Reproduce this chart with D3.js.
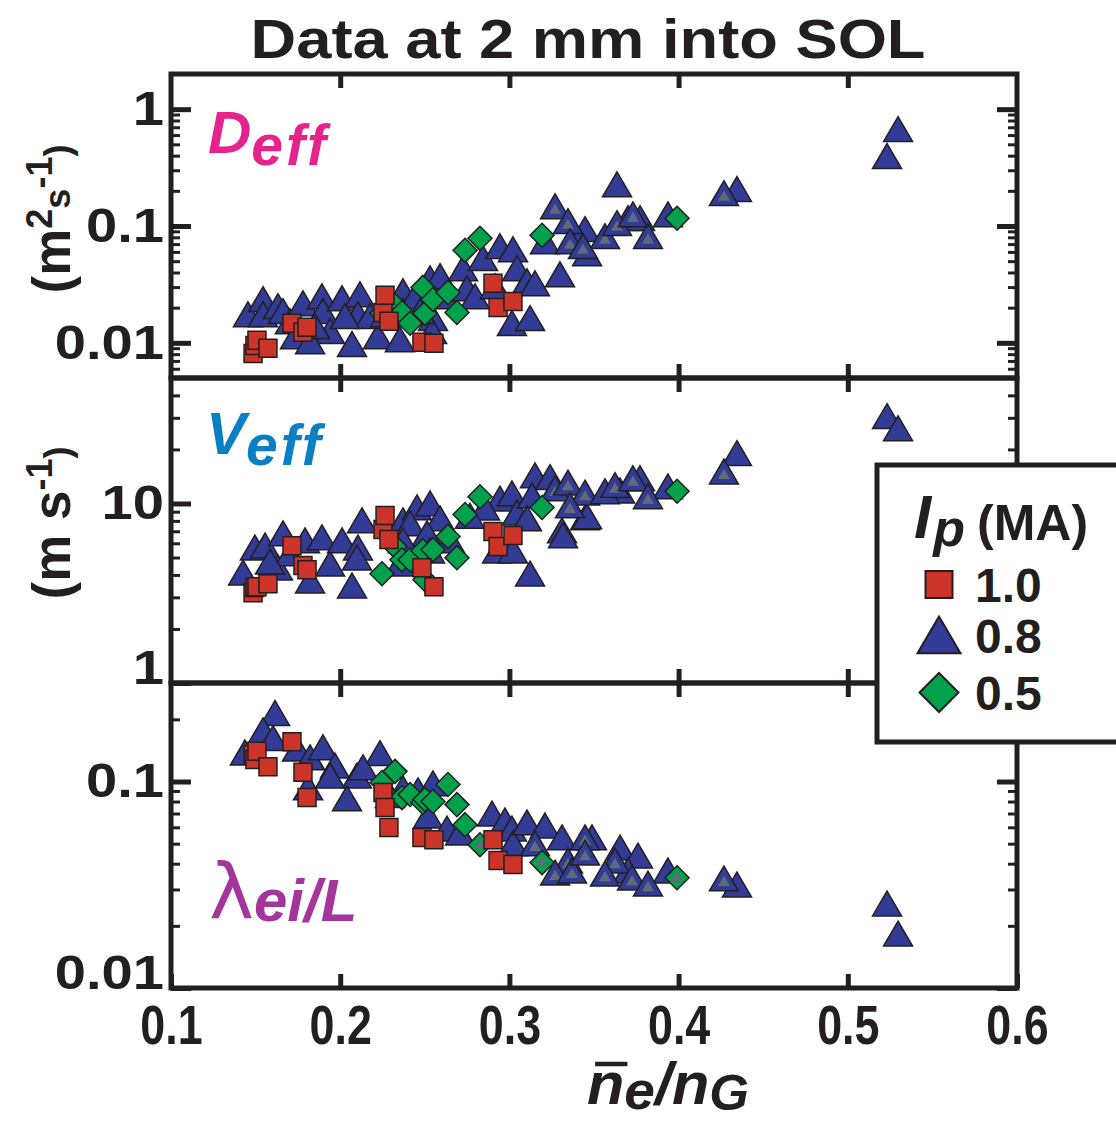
<!DOCTYPE html>
<html>
<head>
<meta charset="utf-8">
<script src="https://cdn.jsdelivr.net/npm/d3@7"></script>
<style>
  body { margin: 0; background: #fff; }
  svg { display: block; }
</style>
</head>
<body>
<svg id="chart" width="1116" height="1123"></svg>
<script>
// ---- Ip = 1.0 MA (squares): same discharges in all three panels ----
const ip10X  = [0.1485, 0.1496, 0.1508, 0.1573, 0.1715, 0.1780, 0.1804, 0.2253, 0.2265, 0.2288, 0.2483, 0.2554, 0.2903, 0.2933, 0.3021];
const deff10 = [0.0081, 0.0095, 0.0105, 0.0090, 0.0147, 0.0123, 0.0136, 0.0182, 0.0255, 0.0153, 0.0101, 0.0099, 0.0323, 0.0201, 0.0226];
const veff10 = [3.18, 3.40, 3.44, 3.57, 5.82, 4.51, 4.28, 7.16, 8.57, 6.30, 4.39, 3.44, 6.98, 5.75, 6.63];
const lam10  = [0.135, 0.128, 0.140, 0.118, 0.156, 0.111, 0.0836, 0.0885, 0.0748, 0.0598, 0.0535, 0.0523, 0.0523, 0.0414, 0.0396];

// ---- Ip = 0.5 MA (diamonds) ----
const ip05X  = [0.2247, 0.2324, 0.2365, 0.2413, 0.2489, 0.2501, 0.2548, 0.2637, 0.2690, 0.2738, 0.2826, 0.3193, 0.3991];
const deff05 = [0.0179, 0.0209, 0.0182, 0.0147, 0.0298, 0.0179, 0.0235, 0.0270, 0.0182, 0.0619, 0.0785, 0.0832, 0.1164];
const veff05 = [4.06, 5.75, 4.86, 4.86, 5.46, 3.76, 5.53, 6.54, 4.99, 8.68, 10.9, 9.50, 11.7];
const lam05  = [0.0989, 0.112, 0.0836, 0.0865, 0.0791, 0.0818, 0.0800, 0.0967, 0.0773, 0.0618, 0.0494, 0.0405, 0.0342];
const lam05Cored = [0, 0, 0, 0, 0, 0, 0, 0, 0, 0, 1, 1, 1];

// ---- Ip = 0.8 MA (triangles), D_eff ----
const deffTriX = [0.1455, 0.1544, 0.1544, 0.1632, 0.1662, 0.1703, 0.1733, 0.1780, 0.1892, 0.1898, 0.2011, 0.2117, 0.2105, 0.1940, 0.1822, 0.2070, 0.2223, 0.2353, 0.2176, 0.2294, 0.2371, 0.2371, 0.2442, 0.2531, 0.2590, 0.2548, 0.2543, 0.2619, 0.2726, 0.2749, 0.2797, 0.2844, 0.2915, 0.2944, 0.3021, 0.3045, 0.3104, 0.3151, 0.3299, 0.3015, 0.3122, 0.3447, 0.3459, 0.3636, 0.3701, 0.3772, 0.3937, 0.4345, 0.5232, 0.5297, 0.3210, 0.1851, 0.2028, 0.2265, 0.2472];
const deffTriY = [0.0162, 0.0218, 0.0162, 0.0190, 0.0172, 0.0141, 0.0105, 0.0201, 0.0231, 0.0172, 0.0222, 0.0240, 0.0162, 0.0116, 0.0095, 0.0090, 0.0105, 0.0099, 0.0156, 0.0209, 0.0255, 0.0172, 0.0231, 0.0329, 0.0343, 0.0150, 0.0116, 0.0231, 0.0401, 0.0270, 0.0231, 0.0489, 0.0281, 0.0619, 0.0583, 0.0401, 0.0310, 0.0298, 0.0356, 0.0136, 0.0150, 0.0866, 0.0539, 0.210, 0.1076, 0.1076, 0.116, 0.191, 0.366, 0.622, 0.0683, 0.0128, 0.0156, 0.0162, 0.0172];
const deffCoreX = [0.3270, 0.3346, 0.3358, 0.3565, 0.3636, 0.3819, 0.4268, 0.3730, 0.3435];
const deffCoreY = [0.136, 0.1014, 0.0683, 0.0754, 0.0975, 0.0754, 0.176, 0.116, 0.0619];

// ---- Ip = 0.8 MA (triangles), V_eff ----
const veffTriX = [0.1426, 0.1496, 0.1556, 0.1662, 0.1632, 0.1792, 0.1892, 0.1940, 0.1822, 0.2011, 0.2105, 0.2129, 0.2099, 0.2070, 0.2371, 0.2454, 0.2531, 0.2413, 0.2590, 0.2513, 0.2371, 0.2353, 0.2531, 0.2649, 0.2944, 0.3015, 0.3045, 0.3151, 0.3240, 0.3447, 0.3311, 0.3134, 0.3104, 0.2927, 0.3021, 0.3122, 0.3317, 0.3459, 0.3654, 0.3772, 0.3937, 0.4345, 0.5232, 0.5297, 0.2856, 0.2767, 0.1703, 0.1585];
const veffTriY = [3.91, 5.39, 5.53, 6.46, 4.17, 5.91, 6.14, 4.39, 3.53, 5.91, 5.39, 7.64, 4.74, 3.31, 7.64, 9.02, 9.50, 7.35, 7.83, 6.46, 5.91, 4.39, 5.19, 5.91, 10.1, 10.8, 8.45, 13.6, 13.3, 7.93, 6.71, 10.5, 7.83, 5.19, 5.19, 3.86, 6.30, 8.03, 11.2, 13.1, 11.8, 18.1, 29.1, 24.9, 9.0, 8.1, 5.0, 4.5];
const veffCoreX = [0.3270, 0.3346, 0.3447, 0.3358, 0.3565, 0.3624, 0.3730, 0.3819, 0.4268];
const veffCoreY = [11.5, 12.4, 10.9, 9.26, 11.1, 12.0, 13.1, 10.4, 14.3];

// ---- Ip = 0.8 MA (triangles), lambda_ei / L ----
const lamTriX = [0.1615, 0.1544, 0.1603, 0.1437, 0.1745, 0.1822, 0.1898, 0.1969, 0.2099, 0.1940, 0.2040, 0.2235, 0.2135, 0.1810, 0.2371, 0.2460, 0.2548, 0.2519, 0.2631, 0.2708, 0.2897, 0.2974, 0.3015, 0.3021, 0.3104, 0.3210, 0.3311, 0.3488, 0.3654, 0.3760, 0.3937, 0.4345, 0.5232, 0.5297, 0.3701, 0.2294];
const lamTriY = [0.205, 0.169, 0.155, 0.132, 0.138, 0.125, 0.140, 0.114, 0.102, 0.102, 0.0791, 0.131, 0.112, 0.0894, 0.0885, 0.0865, 0.0935, 0.0654, 0.0565, 0.0541, 0.0668, 0.0618, 0.0565, 0.0479, 0.0605, 0.0585, 0.0512, 0.0512, 0.0457, 0.0418, 0.0354, 0.0303, 0.0245, 0.0175, 0.0354, 0.082];
const lamCoreX = [0.3151, 0.3447, 0.3346, 0.3270, 0.3370, 0.3447, 0.3624, 0.3565, 0.3725, 0.3819, 0.4268];
const lamCoreY = [0.0479, 0.0512, 0.0395, 0.0346, 0.0354, 0.0432, 0.0395, 0.0342, 0.0327, 0.0306, 0.0324];

// ---- axis ticks and legend ----
const xTicks = [0.1, 0.2, 0.3, 0.4, 0.5, 0.6];
const deffTicks = [0.01, 0.1, 1];
const veffTicks = [1, 10];
const lamTicks = [0.01, 0.1];
const legendLabels = ["1.0", "0.8", "0.5"];

const INK = "#231f20";
const RED = "#cc3329";
const BLUE = "#323b95";
const GREEN = "#00a14b";
const CORE = "#5f6b78";
const SANS = "'Liberation Sans', Arial, Helvetica, sans-serif";

const svg = d3.select("#chart");
const x = d3.scaleLinear().domain([0.1, 0.6]).range([171, 1017]);
const X0 = 171, X1 = 1017;

const zip = (xs, ys) => xs.map((v, i) => ({ x: v, y: ys[i], i }));

const panels = [
  { domain: [0.005, 2], top: 74, bottom: 378, majors: deffTicks,
    tri: zip(deffTriX, deffTriY), core: zip(deffCoreX, deffCoreY),
    dia: zip(ip05X, deff05), diaCored: null, sq: zip(ip10X, deff10) },
  { domain: [1, 50], top: 378, bottom: 683, majors: veffTicks,
    tri: zip(veffTriX, veffTriY), core: zip(veffCoreX, veffCoreY),
    dia: zip(ip05X, veff05), diaCored: null, sq: zip(ip10X, veff10) },
  { domain: [0.01, 0.3], top: 683, bottom: 988, majors: lamTicks,
    tri: zip(lamTriX, lamTriY), core: zip(lamCoreX, lamCoreY),
    dia: zip(ip05X, lam05), diaCored: lam05Cored, sq: zip(ip10X, lam10) }
];

// marker shapes, centred on the data point
const triPath = (w) => { const h = w * 24 / 28; return `M0,${-2 * h / 3}L${w / 2},${h / 3}L${-w / 2},${h / 3}Z`; };
const sqPath = (s) => `M${-s / 2},${-s / 2}h${s}v${s}h${-s}Z`;
const diaPath = (r) => `M0,${-r}L${r},0L0,${r}L${-r},0Z`;

panels.forEach((p, pi) => {
  const y = d3.scaleLog().domain(p.domain).range([p.bottom, p.top]);
  const g = svg.append("g");

  // 0.8 MA triangles
  g.selectAll(".tri").data(p.tri).join("path")
    .attr("d", triPath(29))
    .attr("transform", d => `translate(${x(d.x)},${y(d.y)})`)
    .attr("fill", BLUE).attr("stroke", INK).attr("stroke-width", 1.5);
  // triangles carrying a grey core
  const cg = g.selectAll(".coreTri").data(p.core).join("g")
    .attr("transform", d => `translate(${x(d.x)},${y(d.y)})`);
  cg.append("path").attr("d", triPath(29))
    .attr("fill", BLUE).attr("stroke", INK).attr("stroke-width", 1.5);
  cg.append("path").attr("d", triPath(12)).attr("fill", CORE);

  // 0.5 MA diamonds
  const dg = g.selectAll(".dia").data(p.dia).join("g")
    .attr("transform", d => `translate(${x(d.x)},${y(d.y)})`);
  dg.append("path").attr("d", diaPath(12))
    .attr("fill", GREEN).attr("stroke", INK).attr("stroke-width", 1.5);
  if (p.diaCored) {
    dg.filter(d => p.diaCored[d.i]).append("path").attr("d", triPath(12)).attr("fill", CORE);
  }

  // 1.0 MA squares
  g.selectAll(".sq").data(p.sq).join("path")
    .attr("d", sqPath(18))
    .attr("transform", d => `translate(${x(d.x)},${y(d.y)})`)
    .attr("fill", RED).attr("stroke", INK).attr("stroke-width", 1.5);

  // minor log ticks (2..9 per decade)
  const minors = y.ticks().filter(v => {
    const m = v / Math.pow(10, Math.floor(Math.log10(v) + 1e-9));
    return Math.abs(m - 1) > 1e-6 && y(v) > p.top + 3 && y(v) < p.bottom - 3;
  });

  const styleTicks = (sel, w) => sel.selectAll(".tick line").attr("stroke", INK).attr("stroke-width", w);

  // left axis: major ticks + labels
  const left = g.append("g").attr("transform", `translate(${X0},0)`)
    .call(d3.axisLeft(y).tickValues(p.majors).tickSize(-20).tickPadding(6).tickFormat(v => String(v)));
  left.select(".domain").remove();
  styleTicks(left, 5);
  left.selectAll(".tick text")
    .attr("fill", INK).attr("font-family", SANS).attr("font-weight", "bold").attr("font-size", 48)
    .attr("transform", "scale(1.17,1)")
    .attr("dy", d => (Math.abs(d - p.domain[0]) < 1e-12 ? "0em" : "0.32em"));
  const leftMinor = g.append("g").attr("transform", `translate(${X0},0)`)
    .call(d3.axisLeft(y).tickValues(minors).tickSize(-9).tickFormat(""));
  leftMinor.select(".domain").remove();
  styleTicks(leftMinor, 3);

  // right axis (mirrored ticks, no labels)
  const right = g.append("g").attr("transform", `translate(${X1},0)`)
    .call(d3.axisRight(y).tickValues(p.majors).tickSize(-20).tickFormat(""));
  right.select(".domain").remove();
  styleTicks(right, 5);
  const rightMinor = g.append("g").attr("transform", `translate(${X1},0)`)
    .call(d3.axisRight(y).tickValues(minors).tickSize(-9).tickFormat(""));
  rightMinor.select(".domain").remove();
  styleTicks(rightMinor, 3);

  // top and bottom x ticks of each panel
  const topAx = g.append("g").attr("transform", `translate(0,${p.top})`)
    .call(d3.axisTop(x).tickValues(xTicks.slice(1, -1)).tickSize(-14).tickFormat(""));
  topAx.select(".domain").remove();
  styleTicks(topAx, 5);
  const last = pi === panels.length - 1;
  const botAx = g.append("g").attr("transform", `translate(0,${p.bottom})`)
    .call(d3.axisBottom(x).tickValues(last ? xTicks : xTicks.slice(1, -1)).tickSize(-14).tickPadding(16)
      .tickFormat(last ? d3.format(".1f") : ""));
  botAx.select(".domain").remove();
  styleTicks(botAx, 5);
  if (last) {
    botAx.selectAll(".tick text")
      .attr("fill", INK).attr("font-family", SANS).attr("font-weight", "bold").attr("font-size", 56)
      .attr("transform", "scale(0.8,1)");
  }

  // panel frame
  g.append("rect")
    .attr("x", X0).attr("y", p.top).attr("width", X1 - X0).attr("height", p.bottom - p.top)
    .attr("fill", "none").attr("stroke", INK).attr("stroke-width", 5);
});

// panel names
const dLab = svg.append("text").attr("x", 208).attr("y", 153)
  .attr("fill", "#e6238c").attr("font-family", SANS).attr("font-weight", "bold").attr("font-style", "italic")
  .attr("font-size", 60);
dLab.append("tspan").text("D");
dLab.append("tspan").attr("dy", 12).attr("font-size", 57).attr("letter-spacing", 3).text("eff");

const vLab = svg.append("text").attr("x", 206).attr("y", 454)
  .attr("fill", "#0a7fc3").attr("font-family", SANS).attr("font-weight", "bold").attr("font-style", "italic")
  .attr("font-size", 60);
vLab.append("tspan").text("V");
vLab.append("tspan").attr("dy", 11).attr("font-size", 57).attr("letter-spacing", 3).text("eff");

const lLab = svg.append("text").attr("x", 209).attr("y", 918).attr("fill", "#a3359b");
lLab.append("tspan").attr("font-family", "'DejaVu Sans', sans-serif").attr("font-size", 76).text("λ");
lLab.append("tspan").attr("font-family", SANS).attr("font-weight", "bold").attr("font-style", "italic")
  .attr("font-size", 60).attr("dy", 3).text("ei/L");

// title
svg.append("text").attr("x", 588).attr("y", 58).attr("text-anchor", "middle")
  .attr("fill", INK).attr("font-family", SANS).attr("font-weight", "bold").attr("font-size", 56)
  .attr("textLength", 675).attr("lengthAdjust", "spacingAndGlyphs")
  .text("Data at 2 mm into SOL");

// y-axis unit labels
function unitLabel(cx, cy, parts) {
  const t = svg.append("text").attr("transform", `translate(${cx},${cy}) rotate(-90)`)
    .attr("text-anchor", "middle").attr("fill", INK).attr("font-family", SANS)
    .attr("font-weight", "bold").attr("font-size", 53);
  parts.forEach(([s, sup]) => {
    t.append("tspan").attr("font-size", sup ? 36 : 53).attr("dy", sup === 1 ? -18 : sup === -1 ? 18 : 0).text(s);
  });
}
unitLabel(70, 219, [["(m", 0], ["2", 1], ["s", -1], ["-1", 1], [")", -1]]);
unitLabel(70, 523, [["(m s", 0], ["-1", 1], [")", -1]]);

// x-axis title: n̄e / nG
const xt = svg.append("g").attr("transform", "translate(668,1104) scale(1.02,1)");
const xtText = xt.append("text").attr("text-anchor", "middle").attr("fill", INK)
  .attr("font-family", SANS).attr("font-weight", "bold").attr("font-style", "italic").attr("font-size", 60);
xtText.append("tspan").text("n");
xtText.append("tspan").attr("font-size", 54).attr("dy", 5).text("e");
xtText.append("tspan").attr("dy", -5).text("/n");
xtText.append("tspan").attr("font-size", 50).attr("dy", 6).text("G");
const nBox = xtText.node().getExtentOfChar(0);
xt.append("line")
  .attr("x1", nBox.x + 8).attr("x2", nBox.x + nBox.width + 3)
  .attr("y1", -40).attr("y2", -40)
  .attr("stroke", INK).attr("stroke-width", 4.5);

// legend
const lg = svg.append("g");
lg.append("rect").attr("x", 877).attr("y", 465).attr("width", 270).attr("height", 277)
  .attr("fill", "#fff").attr("stroke", INK).attr("stroke-width", 5);
const lt = lg.append("text").attr("x", 914).attr("y", 538).attr("fill", INK)
  .attr("font-family", SANS).attr("font-weight", "bold");
lt.append("tspan").attr("font-style", "italic").attr("font-size", 62).text("I");
lt.append("tspan").attr("font-style", "italic").attr("font-size", 52).attr("dy", 8).attr("dx", 2).text("p");
lt.append("tspan").attr("font-size", 50).attr("dy", -6).attr("dx", 12).text("(MA)");

const legendRows = [
  { y: 584.5, base: 602, shape: sqPath(27), fill: RED },
  { y: 641, base: 653, shape: triPath(43), fill: BLUE },
  { y: 692.5, base: 710, shape: diaPath(19.5), fill: GREEN }
];
legendRows.forEach((r, i) => {
  lg.append("path").attr("d", r.shape).attr("transform", `translate(939,${r.y})`)
    .attr("fill", r.fill).attr("stroke", INK).attr("stroke-width", 2);
  lg.append("text").attr("x", 975).attr("y", r.base).attr("fill", INK)
    .attr("font-family", SANS).attr("font-weight", "bold").attr("font-size", 48)
    .text(legendLabels[i]);
});
</script>
</body>
</html>
